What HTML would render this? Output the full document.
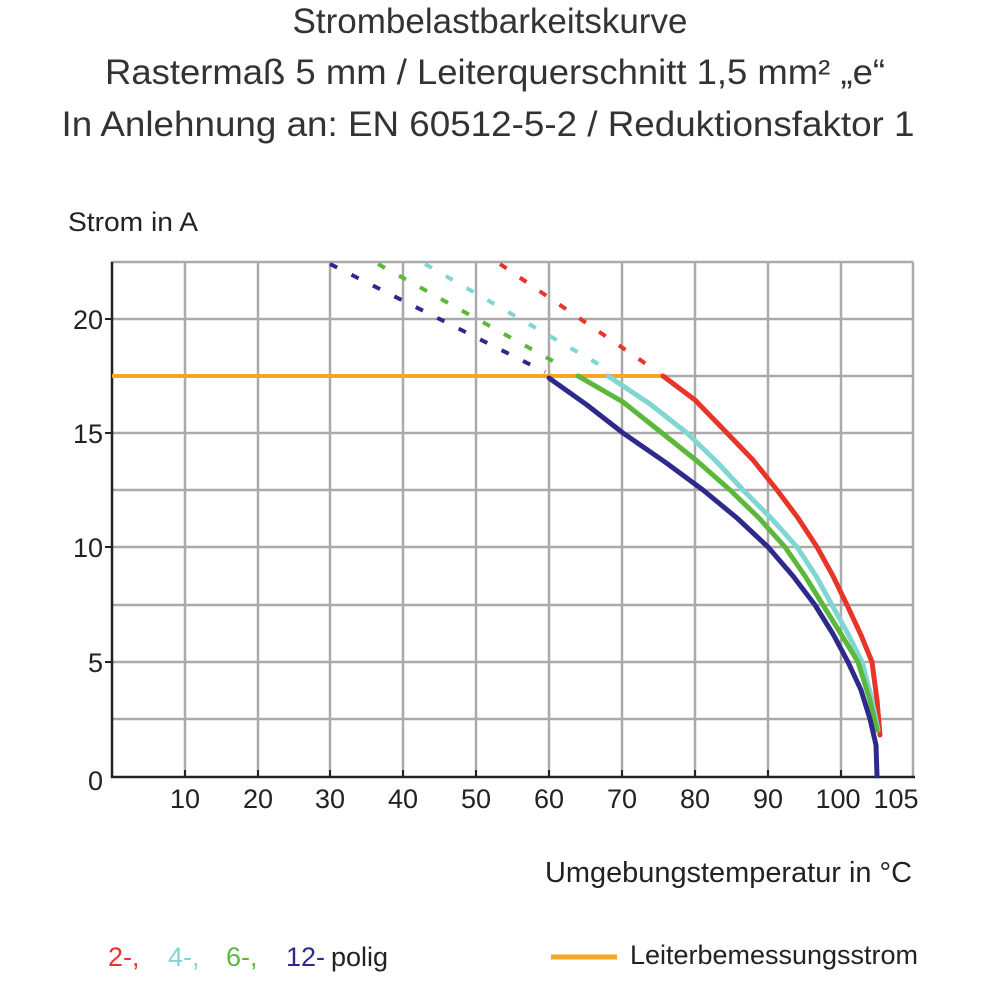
<!DOCTYPE html>
<html><head><meta charset="utf-8"><style>
body{margin:0;background:#fff;width:1000px;height:1000px;overflow:hidden}
svg{display:block}
text{font-family:"Liberation Sans",sans-serif;fill:#222}
</style></head><body>
<svg width="1000" height="1000" viewBox="0 0 1000 1000">
<g font-size="35" text-anchor="middle" style="fill:#333">
<text x="490" y="33" style="fill:#333">Strombelastbarkeitskurve</text>
<text x="495" y="84" style="fill:#333" textLength="780" lengthAdjust="spacingAndGlyphs">Rastermaß 5 mm / Leiterquerschnitt 1,5 mm² „e“</text>
<text x="488" y="136" style="fill:#333" textLength="853" lengthAdjust="spacingAndGlyphs">In Anlehnung an: EN 60512-5-2 / Reduktionsfaktor 1</text>
</g>
<text x="68" y="231" font-size="27" textLength="130" lengthAdjust="spacingAndGlyphs">Strom in A</text>
<g stroke="#aaa" stroke-width="2.5" fill="none">
<path d="M185 262V776M258 262V776M330 262V776M403 262V776M476 262V776M549 262V776M622 262V776M695 262V776M768 262V776M841 262V776M913 262V776"/>
<path d="M111 262H913M111 319H913M111 376H913M111 433H913M111 490H913M111 547H913M111 605H913M111 662H913M111 719H913"/>
</g>
<path d="M112 262V777H915" stroke="#222" stroke-width="2.5" fill="none"/>
<g stroke="#222" stroke-width="2">
<path d="M105 319H112M105 433H112M105 547H112M105 662H112"/>
<path d="M185 776V770M258 776V770M330 776V770M403 776V770M476 776V770M549 776V770M622 776V770M695 776V770M768 776V770M841 776V770M877 776V770"/>
</g>
<g font-size="27" text-anchor="end">
<text x="103" y="329">20</text><text x="103" y="443">15</text><text x="103" y="557">10</text><text x="103" y="672">5</text><text x="103" y="790">0</text>
</g>
<g font-size="27" text-anchor="middle">
<text x="185" y="808">10</text><text x="258" y="808">20</text><text x="330" y="808">30</text><text x="403" y="808">40</text><text x="476" y="808">50</text><text x="549" y="808">60</text><text x="622" y="808">70</text><text x="695" y="808">80</text><text x="768" y="808">90</text><text x="838" y="808">100</text><text x="896" y="808">105</text>
</g>
<path d="M112 376H663" stroke="#f5a623" stroke-width="4"/>
<g fill="none" stroke-width="4" stroke-dasharray="8 16">
<path d="M330 264L545 372" stroke="#2e2a8c"/>
<path d="M378 264L560 365" stroke="#5cb83a"/>
<path d="M425 264L600 365" stroke="#7fd6d2"/>
<path d="M500 264L655 370" stroke="#e8352a"/>
</g>
<g fill="none" stroke-width="5" stroke-linecap="round" stroke-linejoin="round">
<polyline points="663,376 695,400 727,433 753,460 777,490 798,518 817,547 833,576 847,605 861,635 872,662 877,700 880,735" stroke="#e8352a"/>
<polyline points="608,376 650,404 687,433 716,461 743,490 771,518 797,547 816,576 832,605 848,634 862,662 871,696 878,730" stroke="#7fd6d2"/>
<polyline points="578,376 623,402 662,433 697,461 730,490 759,518 785,547 805,576 823,605 841,634 858,662 869,697 877,730" stroke="#5cb83a"/>
<polyline points="549,378 587,405 623,433 665,462 703,490 737,518 768,547 793,576 815,605 833,634 848,662 861,690 870,719 876,745 877,776" stroke="#2e2a8c"/>
</g>
<text x="912" y="882" font-size="29" text-anchor="end" textLength="367" lengthAdjust="spacingAndGlyphs">Umgebungstemperatur in °C</text>
<g font-size="27">
<text x="108" y="966" style="fill:#e8352a">2-,</text>
<text x="168" y="966" style="fill:#7fd6d2">4-,</text>
<text x="226" y="966" style="fill:#5cb83a">6-,</text>
<text x="286" y="966" style="fill:#2e2a8c">12-</text>
<text x="331" y="966">polig</text>
<text x="630" y="964" textLength="288" lengthAdjust="spacingAndGlyphs">Leiterbemessungsstrom</text>
</g>
<path d="M551 957H617" stroke="#f5a623" stroke-width="5"/>
</svg>
</body></html>
